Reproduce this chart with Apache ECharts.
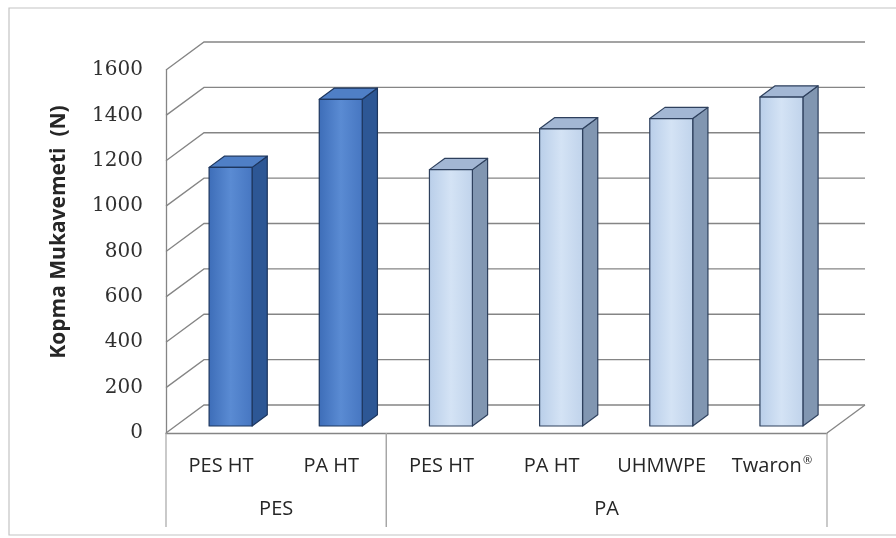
<!DOCTYPE html>
<html>
<head>
<meta charset="utf-8">
<script src="https://cdn.jsdelivr.net/npm/echarts@6/dist/echarts.min.js"></script>
<style>
  html, body { margin: 0; padding: 0; background: #ffffff; }
  #chart { width: 896px; height: 538px; }
</style>
</head>
<body>
<div id="chart"></div>
<script>
// Breaking strength per yarn type
const categories = ['PES HT', 'PA HT', 'PES HT', 'PA HT', 'UHMWPE', 'Twaron\u00AE'];
const strength = [1140, 1440, 1130, 1310, 1355, 1450];
const barGroup = [0, 0, 1, 1, 1, 1];
const groupNames = ['PES', 'PA'];
const groupStart = [0, 2];
const groupEnd = [1, 5];
const yTicks = [0, 200, 400, 600, 800, 1000, 1200, 1400, 1600];
const yTitle = 'Kopma Mukavemeti  (N)';

// Oblique projection of the depth axis (full floor depth, in px)
const DEPTH = [38, -28];
const BAR_FRONT = 0.25;   // bar front face position along depth
const BAR_BACK = 0.65;    // bar back face position along depth
const BAR_WIDTH = 0.39;   // fraction of category band

const gridColor = '#858585';
const textColor = '#262626';
const labelFont = 'Open Sans';

const barStyles = [
  {
    front: new echarts.graphic.LinearGradient(0, 0, 1, 0, [
      { offset: 0, color: '#3d6db8' },
      { offset: 0.5, color: '#5a8bd3' },
      { offset: 1, color: '#4676c1' }
    ]),
    side: '#2d5795',
    top: '#4f7fc6',
    stroke: '#1d365e'
  },
  {
    front: new echarts.graphic.LinearGradient(0, 0, 1, 0, [
      { offset: 0, color: '#b9cee9' },
      { offset: 0.5, color: '#d4e3f5' },
      { offset: 1, color: '#c0d3eb' }
    ]),
    side: '#8196b1',
    top: '#a3b7d4',
    stroke: '#2e405d'
  }
];

function bandHalf(api) {
  return api.size([1, 0])[0] / 2;
}

// Side wall diagonals and back wall gridlines
function renderFrame(params, api) {
  const v = api.value(1);
  const half = bandHalf(api);
  const p0 = api.coord([0, v]);
  const pN = api.coord([categories.length - 1, v]);
  const xl = p0[0] - half;
  const xr = pN[0] + half;
  const y = p0[1];
  const children = [{
    type: 'polyline',
    shape: { points: [[xl, y], [xl + DEPTH[0], y + DEPTH[1]], [xr + DEPTH[0], y + DEPTH[1]]] },
    style: { stroke: gridColor, lineWidth: 1.3, fill: null }
  }];
  if (v === 0) {
    children.push({
      type: 'line',
      shape: { x1: xr, y1: y, x2: xr + DEPTH[0], y2: y + DEPTH[1] },
      style: { stroke: gridColor, lineWidth: 1.3 }
    });
  }
  return { type: 'group', children: children };
}

// 3D box per bar: front face, right side, top
function renderBar(params, api) {
  const i = api.value(0);
  const v = api.value(1);
  const st = barStyles[barGroup[i]];
  const base = api.coord([i, 0]);
  const topP = api.coord([i, v]);
  const w = api.size([1, 0])[0] * BAR_WIDTH;
  const fx = DEPTH[0] * BAR_FRONT, fy = DEPTH[1] * BAR_FRONT;
  const dx = DEPTH[0] * (BAR_BACK - BAR_FRONT), dy = DEPTH[1] * (BAR_BACK - BAR_FRONT);
  const x0 = base[0] - w / 2 + fx;
  const x1 = x0 + w;
  const yb = base[1] + fy;
  const yt = topP[1] + fy;
  const line = { stroke: st.stroke, lineWidth: 1.2, lineJoin: 'round' };
  return {
    type: 'group',
    children: [
      {
        type: 'polygon',
        shape: { points: [[x1, yt], [x1 + dx, yt + dy], [x1 + dx, yb + dy], [x1, yb]] },
        style: Object.assign({ fill: st.side }, line)
      },
      {
        type: 'polygon',
        shape: { points: [[x0, yt], [x0 + dx, yt + dy], [x1 + dx, yt + dy], [x1, yt]] },
        style: Object.assign({ fill: st.top }, line)
      },
      {
        type: 'rect',
        shape: { x: x0, y: yt, width: w, height: yb - yt },
        style: Object.assign({ fill: st.front }, line)
      }
    ]
  };
}

// Group brackets below the category labels
function renderGroup(params, api) {
  const s = api.value(0);
  const e = api.value(1);
  const k = api.value(2);
  const half = bandHalf(api);
  const ps = api.coord([s, 0]);
  const pe = api.coord([e, 0]);
  const xl = ps[0] - half;
  const xr = pe[0] + half;
  const y = ps[1];
  const lineStyle = { stroke: '#a6a6a6', lineWidth: 1.2 };
  return {
    type: 'group',
    children: [
      { type: 'line', shape: { x1: xl, y1: y, x2: xl, y2: y + 94 }, style: lineStyle },
      { type: 'line', shape: { x1: xr, y1: y, x2: xr, y2: y + 94 }, style: lineStyle },
      {
        type: 'text',
        style: {
          x: (xl + xr) / 2, y: y + 76,
          text: groupNames[k],
          align: 'center', verticalAlign: 'middle',
          font: '20px "' + labelFont + '"', fill: textColor
        }
      }
    ]
  };
}

const chart = echarts.init(document.getElementById('chart'), null, { renderer: 'canvas' });

chart.setOption({
  backgroundColor: '#ffffff',
  animation: false,
  grid: { left: 166, top: 70, right: 69, bottom: 105 },
  xAxis: {
    type: 'category',
    data: categories,
    axisLine: { show: true, lineStyle: { color: gridColor, width: 1.3 } },
    axisTick: { show: false },
    axisLabel: {
      margin: 21,
      interval: 0,
      fontFamily: labelFont,
      fontSize: 20,
      lineHeight: 24,
      color: textColor,
      formatter: function (v) {
        return v.indexOf('\u00AE') >= 0 ? v.replace('\u00AE', '{sup|\u00AE}') : v;
      },
      rich: {
        sup: { fontFamily: labelFont, fontSize: 11, color: textColor, padding: [0, 0, 10, 1] }
      }
    },
    splitLine: { show: false }
  },
  yAxis: {
    type: 'value',
    min: 0,
    max: 1600,
    interval: 200,
    axisLine: { show: true, lineStyle: { color: gridColor, width: 1.3 } },
    axisTick: { show: false },
    axisLabel: {
      margin: 23,
      fontFamily: 'DejaVu Serif',
      fontSize: 20,
      color: '#303030',
      formatter: function (v) { return String(v); }
    },
    splitLine: { show: false }
  },
  graphic: [
    {
      type: 'rect',
      shape: { x: 9, y: 8, width: 900, height: 527 },
      style: { fill: null, stroke: '#c4c4c4', lineWidth: 1.2 },
      silent: true
    },
    {
      type: 'text',
      x: 59,
      y: 232,
      rotation: Math.PI / 2,
      style: {
        text: yTitle,
        align: 'center',
        verticalAlign: 'middle',
        font: 'bold 21px "' + labelFont + '"',
        fill: textColor
      }
    }
  ],
  series: [
    {
      type: 'custom',
      name: 'frame',
      renderItem: renderFrame,
      data: yTicks.map(v => [0, v]),
      clip: false,
      silent: true,
      z: 1
    },
    {
      type: 'custom',
      name: 'groups',
      renderItem: renderGroup,
      data: groupNames.map((g, k) => [groupStart[k], groupEnd[k], k]),
      clip: false,
      silent: true,
      z: 1
    },
    {
      type: 'custom',
      name: 'Kopma Mukavemeti',
      renderItem: renderBar,
      data: strength.map((v, i) => [i, v]),
      clip: false,
      z: 3
    }
  ]
});
</script>
</body>
</html>
